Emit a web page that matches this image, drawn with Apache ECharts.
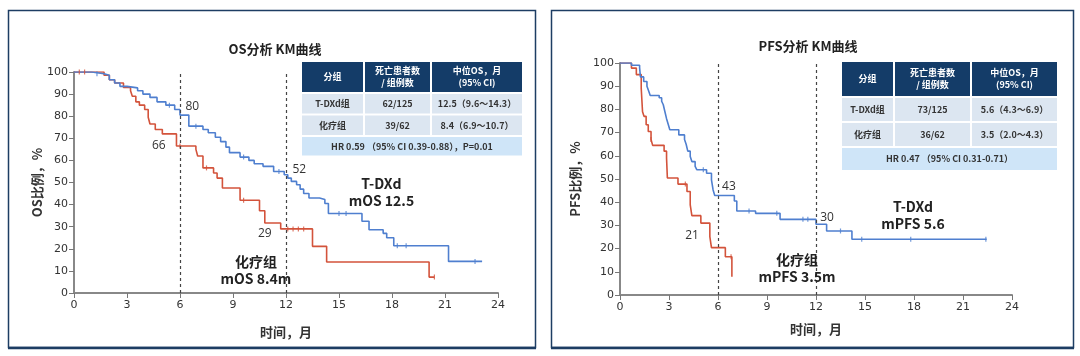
<!DOCTYPE html>
<html>
<head>
<meta charset="utf-8">
<script src="https://cdn.jsdelivr.net/npm/echarts@6/dist/echarts.min.js"></script>
<style>
html,body{margin:0;padding:0;background:#fff;}
#c{width:1080px;height:356px;}
</style>
</head>
<body>
<div id="c"></div>
<script>
// ---------- data ----------
const xTicks = [0, 3, 6, 9, 12, 15, 18, 21, 24];
const yTicks = [0, 10, 20, 30, 40, 50, 60, 70, 80, 90, 100];

// OS, T-DXd  [month, survival %]
const osTdxd = [[0,100],[1.0,99.2],[1.7,98.5],[2.0,96.5],[2.3,95],[2.6,93.5],[3.0,92.8],[3.6,91.5],[3.9,90],[4.3,88.5],[4.7,86.5],[5.2,85],[5.7,83],[6.0,80.5],[6.5,75.5],[7.3,74],[7.6,72.5],[8.0,70.5],[8.3,68.5],[8.6,66],[8.8,63.5],[9.4,61.5],[9.9,60],[10.2,58.5],[10.7,57.3],[11.3,55],[11.9,53.5],[12.1,52],[12.3,50.5],[12.6,49],[12.8,47],[13.0,45],[13.3,43],[13.9,42.3],[14.2,40.5],[14.4,36],[16.3,32.5],[16.7,28.6],[17.5,27],[17.7,25],[18.1,21.4],[21.2,14.3],[23.1,14.3]];
// OS, chemotherapy
const osChemo = [[0,100],[1.7,98.5],[2.0,96.5],[2.3,95],[2.8,93],[3.2,91.5],[3.3,89],[3.5,86.5],[3.7,85],[4.0,83],[4.2,79.5],[4.3,76.5],[4.6,74],[5.0,72],[5.8,66.5],[6.9,65],[7.0,62],[7.3,56.6],[7.9,54.3],[8.1,52],[8.4,47.5],[9.4,42],[10.5,37.2],[10.8,31.7],[11.7,29],[13.5,21.1],[14.3,14],[20.1,7.2],[20.4,7.2]];
// PFS, T-DXd
const pfsTdxd = [[0,100],[0.7,99],[1.2,98],[1.25,94],[1.45,92],[1.65,90],[1.75,88],[1.85,86],[2.4,85],[2.55,83.5],[2.65,82],[2.75,79],[2.85,76],[2.96,73.4],[3.05,71.2],[3.6,69],[3.95,67],[4.05,65],[4.15,62],[4.3,59.7],[4.4,57.5],[4.6,55.4],[4.7,54],[5.3,52.5],[5.6,49.6],[5.7,45.3],[5.8,42.9],[7.0,40.5],[7.15,36.2],[8.3,35.2],[9.8,32.6],[12.0,30.5],[12.65,27.6],[14.2,24],[22.45,24]];
// PFS, chemotherapy
const pfsChemo = [[0,100],[0.7,97.8],[1.0,95],[1.3,89],[1.38,79],[1.47,77],[1.6,73.4],[1.73,70.5],[1.9,67],[2.0,64.5],[2.7,62],[2.85,59],[2.9,50.4],[3.55,47.8],[4.1,44.6],[4.3,38.8],[4.4,34.2],[4.95,31],[5.5,25.2],[5.6,20.4],[6.45,16.5],[6.85,7.9]];

// censor marks
const osTdxdCens = [[1.3,99.2],[5.4,85],[6.9,75.5],[9.6,61.5],[11.6,55],[15.0,36],[15.4,36],[18.3,21.4],[18.8,21.4],[22.7,14.3]];
const osChemoCens = [[0.3,100],[0.6,100],[6.0,66.5],[7.5,56.6],[9.6,42],[12.1,29],[12.4,29],[12.7,29],[13.0,29],[20.4,7.2]];
const pfsTdxdCens = [[5.1,54],[7.9,36.2],[9.6,35.2],[11.2,32.6],[11.5,32.6],[13.5,27.6],[14.8,24],[17.8,24],[22.4,24]];
const pfsChemoCens = [[1.9,67],[4.0,47.8],[6.8,16.5]];

// landmark annotations [month, %, text]
const osLandmarks = [[6.7,84.3,'80'],[4.8,66.7,'66'],[12.75,55.8,'52'],[10.8,26.8,'29']];
const pfsLandmarks = [[6.67,46.6,'43'],[4.41,25.4,'21'],[12.68,33.2,'30']];
const osMedians = [[17.4,45.5,'T-DXd\nmOS 12.5'],[10.3,10.3,'化疗组\nmOS 8.4m']];
const pfsMedians = [[17.94,34.5,'T-DXd\nmPFS 5.6'],[10.84,11.6,'化疗组\nmPFS 3.5m']];
const landmarkMonths = [6, 12];

// tables
const tableHeader = ['分组', '死亡患者数\n/ 组例数', '中位OS，月\n(95% CI)'];
const osRows = [['T-DXd组','62/125','12.5（9.6～14.3）'],['化疗组','39/62','8.4（6.9～10.7）']];
const osHR = 'HR 0.59 （95% CI 0.39-0.88），P=0.01';
const pfsRows = [['T-DXd组','73/125','5.6（4.3～6.9）'],['化疗组','36/62','3.5（2.0～4.3）']];
const pfsHR = 'HR 0.47 （95% CI 0.31-0.71）';

// ---------- styles ----------
const BLUE = '#4f7fcf', RED = '#d3533b', NAVY = '#143c68';
const CJK = '"Noto Sans CJK SC","Noto Sans",sans-serif';

function xAxisCfg(gi){
  return {gridIndex:gi,type:'value',min:0,max:24,interval:3,
    name:'时间，月',nameLocation:'middle',nameGap:gi===0?33:28,
    nameTextStyle:{fontFamily:CJK,fontSize:13,fontWeight:'bold',color:'#333'},
    axisLine:{lineStyle:{color:'#888',width:2}},
    axisTick:{inside:false,length:5,lineStyle:{color:'#777',width:1}},
    axisLabel:{fontFamily:'DejaVu Sans',fontSize:11,color:'#333',margin:7},
    splitLine:{show:false}};
}
function yAxisCfg(gi,name){
  return {gridIndex:gi,type:'value',min:0,max:100,interval:10,
    name:name,nameLocation:'middle',nameGap:gi===0?27:38,
    nameTextStyle:{fontFamily:CJK,fontSize:13,fontWeight:'bold',color:'#333'},
    axisLine:{show:true,lineStyle:{color:'#888',width:2}},
    axisTick:{show:true,length:5,lineStyle:{color:'#777',width:1}},
    axisLabel:{fontFamily:'DejaVu Sans',fontSize:11,color:'#333',margin:6},
    splitLine:{show:false}};
}
function km(data,color,gi,withLines){
  const s = {type:'line',step:'end',data:data,xAxisIndex:gi,yAxisIndex:gi,
    showSymbol:false,symbol:'none',lineStyle:{color:color,width:1.6},
    itemStyle:{color:color},animation:false,z:3};
  if(withLines){
    s.markLine = {silent:true,symbol:['none','none'],label:{show:false},
      lineStyle:{type:[3,3],color:'#444',width:1.2},
      data:landmarkMonths.map(m=>({xAxis:m}))};
  }
  return s;
}
function cens(data,color,gi){
  return {type:'scatter',data:data,xAxisIndex:gi,yAxisIndex:gi,symbol:'rect',
    symbolSize:[1.2,5],itemStyle:{color:color},animation:false,z:4};
}

const chart = echarts.init(document.getElementById('c'),null,{renderer:'canvas'});

function tableGraphic(x0, y0, cols, rowH, gap, hdr, rows, hr, fs){
  const els = [];
  let y = y0;
  const heights = [rowH[0], rowH[1], rowH[2]];
  let x = x0;
  cols.forEach((w,i)=>{
    els.push({type:'rect',shape:{x:x,y:y,width:w,height:heights[0]},style:{fill:NAVY}});
    els.push({type:'text',x:x+w/2,y:y+heights[0]/2,style:{text:hdr[i],fill:'#fff',font:'bold '+fs+'px '+CJK,align:'center',verticalAlign:'middle',lineHeight:fs+3}});
    x += w + gap;
  });
  y += heights[0] + gap;
  rows.forEach(r=>{
    x = x0;
    cols.forEach((w,i)=>{
      els.push({type:'rect',shape:{x:x,y:y,width:w,height:heights[1]},style:{fill:'#dce6f1'}});
      els.push({type:'text',x:x+w/2,y:y+heights[1]/2,style:{text:r[i],fill:'#333',font:'bold '+fs+'px '+CJK,align:'center',verticalAlign:'middle'}});
      x += w + gap;
    });
    y += heights[1] + gap;
  });
  const total = cols.reduce((a,b)=>a+b,0) + gap*(cols.length-1);
  els.push({type:'rect',shape:{x:x0,y:y,width:total,height:heights[2]},style:{fill:'#cfe5f8'}});
  els.push({type:'text',x:x0+total/2,y:y+heights[2]/2,style:{text:hr,fill:'#333',font:'bold '+fs+'px '+CJK,align:'center',verticalAlign:'middle'}});
  return els;
}

const option = {
  backgroundColor:'#fff',
  animation:false,
  title:[
    {text:'OS分析 KM曲线',left:270,top:38,textAlign:'center',textStyle:{fontFamily:CJK,fontSize:13,fontWeight:'bold',color:'#222'}},
    {text:'PFS分析 KM曲线',left:803,top:35,textAlign:'center',textStyle:{fontFamily:CJK,fontSize:13,fontWeight:'bold',color:'#222'}}
  ],
  grid:[
    {left:74,top:72,width:424,height:221},
    {left:620,top:63,width:392,height:232}
  ],
  xAxis:[xAxisCfg(0),xAxisCfg(1)],
  yAxis:[yAxisCfg(0,'OS比例，%'),yAxisCfg(1,'PFS比例，%')],
  series:[
    km(osChemo,RED,0,true), km(osTdxd,BLUE,0,false),
    km(pfsChemo,RED,1,true), km(pfsTdxd,BLUE,1,false),
    cens(osTdxdCens,BLUE,0), cens(osChemoCens,RED,0),
    cens(pfsTdxdCens,BLUE,1), cens(pfsChemoCens,RED,1)
  ]
};
chart.setOption(option);

// overlays: panel frames, tables, annotations
const g = [];
g.push({type:'rect',shape:{x:8.5,y:10.5,width:527,height:337},style:{fill:null,stroke:'#1d3d63',lineWidth:1.5},z:0});
g.push({type:'rect',shape:{x:551.5,y:10.5,width:522,height:337},style:{fill:null,stroke:'#1d3d63',lineWidth:1.5},z:0});
g.push({type:'line',shape:{x1:8,y1:348,x2:536,y2:348},style:{stroke:'#1d3d63',lineWidth:2.5}});
g.push({type:'line',shape:{x1:551,y1:348,x2:1074,y2:348},style:{stroke:'#1d3d63',lineWidth:2.5}});

tableGraphic(302,62,[61,65,90],[30,19.5,18.5],2,tableHeader,osRows,osHR,9).forEach(e=>g.push(e));
tableGraphic(842,62,[51,75,85],[34,23,22],2,tableHeader,pfsRows,pfsHR,9).forEach(e=>g.push(e));

function addLabels(list,gi,style){
  list.forEach(p=>{
    const px = chart.convertToPixel({xAxisIndex:gi,yAxisIndex:gi},[p[0],p[1]]);
    g.push({type:'text',x:px[0],y:px[1],z:10,style:Object.assign({text:p[2],align:'center',verticalAlign:'middle'},style)});
  });
}
const numStyle = {fill:'#333',font:'12px "Open Sans",sans-serif'};
const medStyle = {fill:'#222',font:'bold 14px '+CJK,lineHeight:17};
addLabels(osLandmarks,0,numStyle);
addLabels(pfsLandmarks,1,numStyle);
addLabels(osMedians,0,medStyle);
addLabels(pfsMedians,1,medStyle);

chart.setOption({graphic:g});
</script>
</body>
</html>
